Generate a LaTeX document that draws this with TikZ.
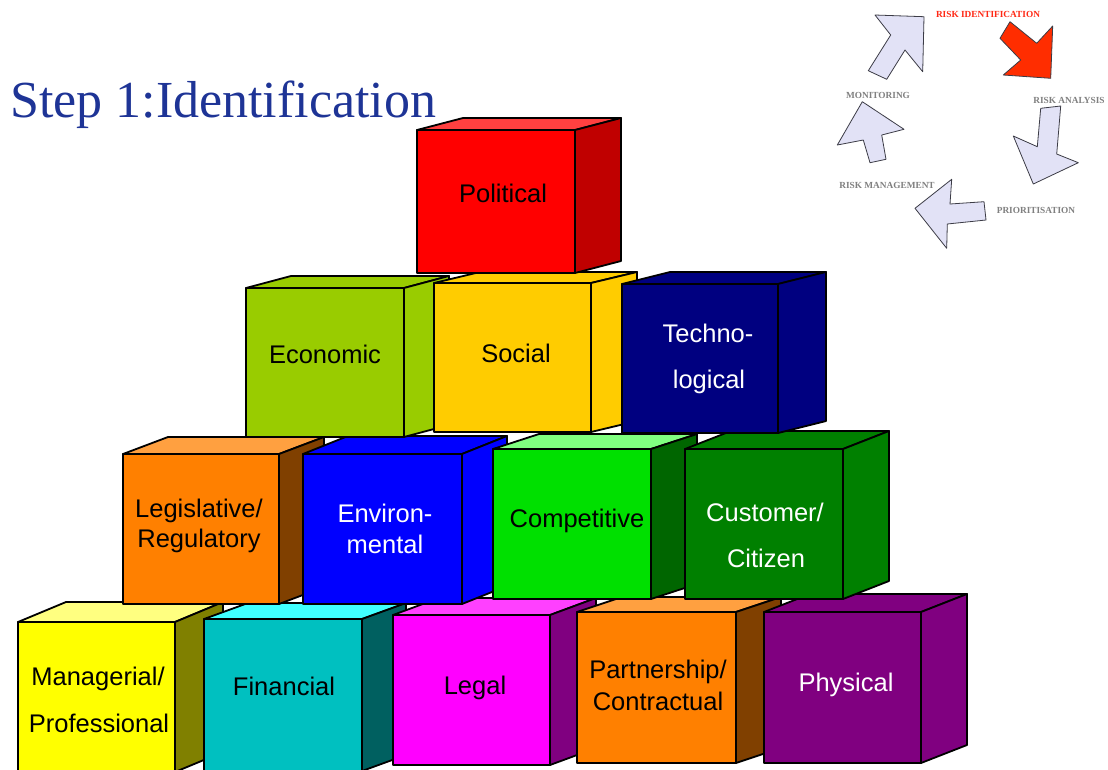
\documentclass[tikz,border=0pt]{standalone}
\usepackage{fontspec}
\setmainfont{Liberation Sans}
\newfontfamily\serifttl{Liberation Serif}
\definecolor{ttlblue}{RGB}{30,52,150}
\definecolor{yelF}{HTML}{FFFF00}\definecolor{yelS}{HTML}{808000}\definecolor{yelT}{HTML}{FFFF80}
\definecolor{cyaF}{HTML}{00C0C0}\definecolor{cyaS}{HTML}{006060}\definecolor{cyaT}{HTML}{40FFFF}
\definecolor{magF}{HTML}{FF00FF}\definecolor{magS}{HTML}{800080}\definecolor{magT}{HTML}{FF40FF}
\definecolor{orF}{HTML}{FF8000}\definecolor{orS}{HTML}{804000}\definecolor{orT}{HTML}{FFA040}
\definecolor{purF}{HTML}{800080}
\definecolor{bluF}{HTML}{0000FF}
\definecolor{grnF}{HTML}{00E000}\definecolor{grnS}{HTML}{006600}\definecolor{grnT}{HTML}{80FF80}
\definecolor{dgrF}{HTML}{008000}
\definecolor{limF}{HTML}{99CC00}
\definecolor{golF}{HTML}{FFCC00}
\definecolor{navF}{HTML}{000080}
\definecolor{redF}{HTML}{FF0000}\definecolor{redS}{HTML}{C00000}\definecolor{redT}{HTML}{FF4040}
\definecolor{cycfill}{RGB}{226,226,246}
\definecolor{cycedge}{RGB}{60,60,70}
\definecolor{cycgrey}{RGB}{128,128,128}
\definecolor{cycred}{RGB}{255,40,20}
\definecolor{cycredF}{RGB}{255,45,0}
\tikzset{
  cubeedge/.style={draw=black, line width=1.8pt, line join=round},
  lbl/.style={font=\fontsize{25.5}{30}\selectfont, anchor=base, inner sep=0pt},
  cyc/.style={draw=cycedge, fill=cycfill, line width=0.8pt, line join=round},
  cyclbl/.style={font=\serifttl\bfseries\fontsize{9.3}{10}\selectfont, text=cycgrey, inner sep=0pt},
}
% #1 x, #2 y, #3 w, #4 h, #5 dx, #6 dy, #7 front, #8 side, #9 top
\newcommand\riskcube[9]{%
  \filldraw[cubeedge, fill=#9] (#1,#2) -- ++(#5,#6) -- ++(#3,0) -- ++({-(#5)},{-(#6)}) -- cycle;
  \filldraw[cubeedge, fill=#8] ({#1+#3},#2) -- ++(#5,#6) -- ++(0,#4) -- ++({-(#5)},{-(#6)}) -- cycle;
  \filldraw[cubeedge, fill=#7] (#1,#2) rectangle ++(#3,#4);
}
\begin{document}
\begin{tikzpicture}[x=1pt,y=-1pt]
\useasboundingbox (0,0) rectangle (1108,769);
\fill[white] (0,0) rectangle (1108,769);

% title
\node[font=\serifttl\fontsize{52}{60}\selectfont, text=ttlblue, anchor=base west, inner sep=0pt] (title) at (10,117) {Step 1:Identification};

% row 4
\riskcube{18}{622}{157}{150}{48}{-20}{yelF}{yelS}{yelT}
\riskcube{204}{619}{158}{152}{44}{-16}{cyaF}{cyaS}{cyaT}
\riskcube{393}{615}{157}{150}{46}{-17}{magF}{magS}{magT}
\riskcube{577}{612}{159}{151}{45}{-15}{orF}{orS}{orT}
\riskcube{764}{612}{157}{151}{46}{-18}{purF}{purF}{purF}
% row 3
\riskcube{123}{454}{156}{150}{45}{-17}{orF}{orS}{orT}
\riskcube{303}{454}{159}{150}{45}{-18}{bluF}{bluF}{bluF}
\riskcube{493}{449}{158}{150}{46}{-15}{grnF}{grnS}{grnT}
\riskcube{685}{449}{158}{150}{46}{-18}{dgrF}{dgrF}{dgrF}
% row 2
\riskcube{246}{288}{158}{149}{45}{-12}{limF}{limF}{limF}
\riskcube{434}{283}{157}{149}{46}{-11}{golF}{golF}{golF}
\riskcube{622}{284}{156}{149}{48}{-12}{navF}{navF}{navF}
% row 1
\riskcube{417}{130}{158}{143}{46}{-12}{redF}{redS}{redT}

% labels
\node[lbl] (political) at (503,202) {Political};
\node[lbl] (economic) at (325,363) {Economic};
\node[lbl] (social) at (516,362) {Social};
\node[lbl, text=white] (techno1) at (708,342) {Techno-};
\node[lbl, text=white] (techno2) at (709,388) {logical};
\node[lbl] (legis1) at (199,517) {Legislative/};
\node[lbl] (legis2) at (199,547) {Regulatory};
\node[lbl, text=white] (env1) at (385,522) {Environ-};
\node[lbl, text=white] (env2) at (385,553) {mental};
\node[lbl] (compet) at (577,527) {Competitive};
\node[lbl, text=white] (cust1) at (765,521) {Customer/};
\node[lbl, text=white] (cust2) at (766,567) {Citizen};
\node[lbl] (manag1) at (98,685) {Managerial/};
\node[lbl] (manag2) at (99,732) {Professional};
\node[lbl] (financial) at (284,695) {Financial};
\node[lbl] (legal) at (475,694) {Legal};
\node[lbl] (partner1) at (658,678) {Partnership/};
\node[lbl] (partner2) at (658,710) {Contractual};
\node[lbl, text=white] (physical) at (846,691) {Physical};

% cycle arrows
\draw[cyc] (875,15) -- (924,16.7) -- (922.7,71.7) -- (905,50) -- (886.7,79.3) -- (868.3,70.7) -- (890.7,35) -- cycle;
\draw[cyc, fill=cycredF] (1010,21.7) -- (1036.7,43.3) -- (1052.7,26) -- (1050.7,78.3) -- (1003.3,75) -- (1020.7,60) -- (1000,38.3) -- cycle;
\draw[cyc] (1040.7,108.3) -- (1060.7,106) -- (1056.7,154) -- (1078.3,162.7) -- (1033.3,184) -- (1013.3,136) -- (1037.3,146.7) -- cycle;
\draw[cyc] (984,201.7) -- (986,220) -- (947.3,224) -- (946.7,248.3) -- (915,208.3) -- (951.7,179.3) -- (950,204) -- cycle;
\draw[cyc] (862.3,101.7) -- (904,129.3) -- (881.7,135) -- (886,159.3) -- (870,162.7) -- (863.3,140) -- (837.3,145) -- cycle;

\node[cyclbl, text=cycred] (riskid) at (988,14) {RISK IDENTIFICATION};
\node[cyclbl] (riskan) at (1069,100) {RISK ANALYSIS};
\node[cyclbl] (prior) at (1036,210) {PRIORITISATION};
\node[cyclbl] (riskman) at (887,185) {RISK MANAGEMENT};
\node[cyclbl] (monit) at (878,95) {MONITORING};
\end{tikzpicture}
\end{document}
